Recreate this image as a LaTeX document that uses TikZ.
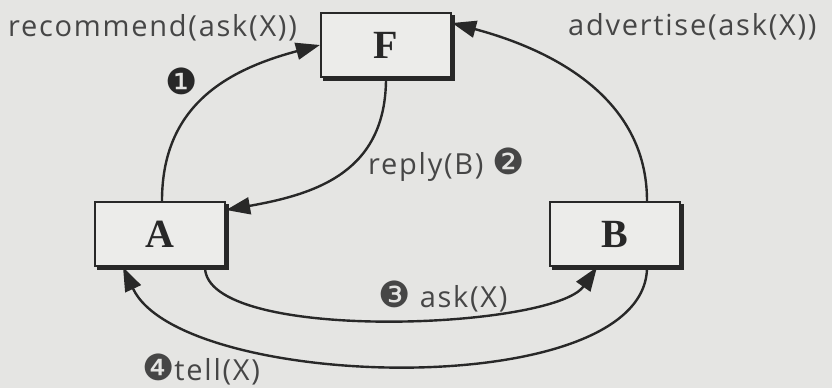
\documentclass[tikz,border=0pt]{standalone}
\usepackage{fontspec}
\usepackage{tikz}
\usetikzlibrary{arrows.meta,positioning}
\setmainfont{Liberation Serif}
\newfontfamily\msgfont[LetterSpace=6]{Open Sans}
\newfontfamily\numfont{DejaVu Sans}
\definecolor{scangray}{RGB}{229,229,227}
\definecolor{boxgray}{RGB}{236,236,234}
\definecolor{inkdark}{RGB}{40,40,40}
\definecolor{textgray}{RGB}{70,70,70}
\newcommand{\stepnum}[1]{{\numfont\fontsize{36}{40}\selectfont #1}}

\tikzset{
  agent/.style={draw=inkdark, line width=2.2pt, fill=boxgray,
    minimum width=130pt, minimum height=64pt,
    font=\fontsize{40}{48}\selectfont\bfseries, text=inkdark},
  agentshadow/.style={draw=inkdark, line width=4.4pt},
  msg/.style={draw=inkdark, line width=2.4pt, -{Triangle[length=24pt,width=17pt]}},
  lbl/.style={font=\msgfont\fontsize{29}{34}\selectfont, text=textgray,
    inner sep=0pt, anchor=base west},
  num/.style={text=inkdark, inner sep=0pt}
}

\begin{document}
\begin{tikzpicture}[x=1pt,y=1pt]
  \useasboundingbox[fill=scangray] (0,0) rectangle (832,388);

  % the three agents
  \node[agent] (nodeF) at (386,343) {F};
  \node[agent] (nodeA) at (160,154) {A};
  \node[agent] (nodeB) at (615,154) {B};
  \foreach \n in {nodeF,nodeA,nodeB}
    \draw[agentshadow] ([shift={(3pt,-0.8pt)}]\n.south west) -| ([shift={(0.8pt,-3pt)}]\n.north east);

  % messages
  \draw[msg] ([xshift=2pt]nodeA.north) to[out=90,in=195,looseness=1.1] (nodeF.west);
  \draw[msg] (nodeF.south) to[out=-90,in=10,looseness=1.15] ([yshift=24pt]nodeA.east);
  \draw[msg] ([xshift=32pt]nodeB.north) to[out=90,in=-15] ([yshift=22pt]nodeF.east);
  \draw[msg] ([xshift=45pt]nodeA.south) to[out=-90,in=-125,looseness=0.5] ([xshift=-18pt]nodeB.south);
  \draw[msg] ([xshift=32pt]nodeB.south) to[out=-90,in=-65,looseness=0.67] ([xshift=-37pt]nodeA.south);

  % labels
  \node[lbl] (lblRecommend) at (8,351) {recommend(ask(X))};
  \node[num] (numOne) at (182,307) {\stepnum{❶}};
  \node[lbl] (lblAdvertise) at (568,352) {advertise(ask(X))};
  \node[lbl] (lblReply) at (368,213) {reply(B) \stepnum{❷}};
  \node[lbl] (lblAsk) at (378,80) {\stepnum{❸} ask(X)};
  \node[lbl] (lblTell) at (142,8) {\stepnum{❹}tell(X)};
\end{tikzpicture}
\end{document}
